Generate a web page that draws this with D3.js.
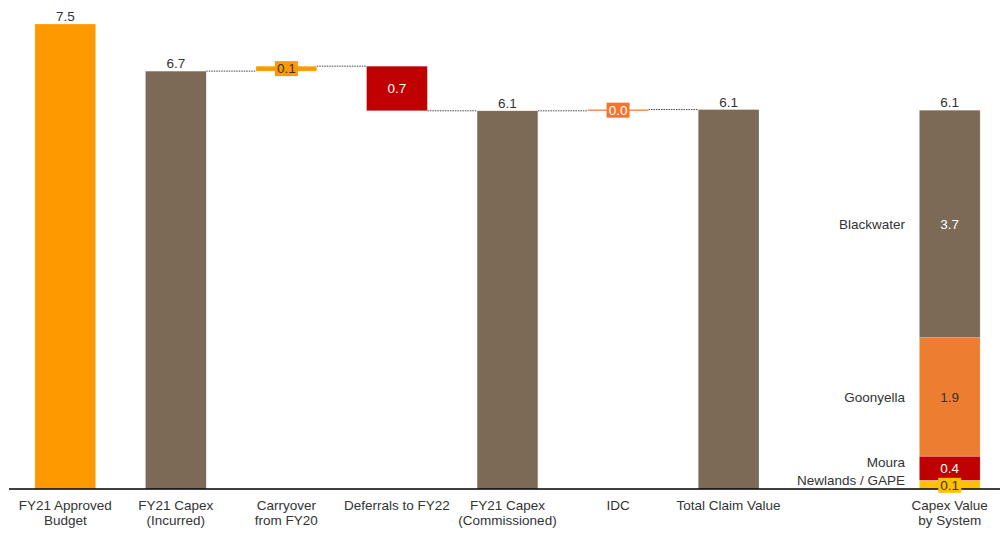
<!DOCTYPE html>
<html>
<head>
<meta charset="utf-8">
<script src="https://cdn.jsdelivr.net/npm/d3@7"></script>
<style>
  html, body { margin: 0; padding: 0; background: #fff; }
  svg { display: block; font-family: "Liberation Sans", Arial, sans-serif; }
</style>
</head>
<body>
<svg id="chart" width="1000" height="534"></svg>
<script>
// Category axis labels (line breaks split the two-line labels)
const categories = [
  "FY21 Approved\nBudget",
  "FY21 Capex\n(Incurred)",
  "Carryover\nfrom FY20",
  "Deferrals to FY22",
  "FY21 Capex\n(Commissioned)",
  "IDC",
  "Total Claim Value",
  "",
  "Capex Value\nby System"
];

// Waterfall steps ($bn): totals are absolute, deltas move from the running level
const stepValues = [7.5, 6.74, 0.08, -0.72, 6.10, 0.02, 6.12];
const stepKinds  = ["total", "total", "delta", "delta", "total", "delta", "total"];
const stepColors = ["#FF9900", "#7D6A56", "#FF9900", "#C00000", "#7D6A56", "#F8732C", "#7D6A56"];

// Capex split by system, top to bottom of the stacked bar
const systems      = ["Blackwater", "Goonyella", "Moura", "Newlands / GAPE"];
const systemValues = [3.67, 1.91, 0.39, 0.14];
const systemColors = ["#7D6A56", "#ED7D31", "#C00000", "#FFC000"];
const systemText   = ["#ffffff", "#333333", "#ffffff", "#333333"];

const fmt = d3.format(".1f");
const svg = d3.select("#chart");
const baseY = 489;
const FS = 13.5;

const x = d3.scaleBand()
  .domain(d3.range(categories.length))
  .range([10, 1005])
  .paddingInner(0.45)
  .paddingOuter(0.225);

const y = d3.scaleLinear().domain([0, 7.5]).range([baseY, 24]);

// Build waterfall segments
let level = 0;
const steps = stepValues.map((v, i) => {
  let lo, hi, end;
  if (stepKinds[i] === "total") { lo = 0; hi = v; end = v; }
  else { const s = level; end = level + v; lo = Math.min(s, end); hi = Math.max(s, end); }
  level = end;
  return { i, v, lo, hi, end, kind: stepKinds[i], color: stepColors[i] };
});

// Dotted connectors, from the incurred capex onwards
const conn = svg.append("g");
for (let k = 2; k < steps.length; k++) {
  const prev = steps[k - 1], cur = steps[k];
  const yy = y(prev.end);
  conn.append("line")
    .attr("x1", x(prev.i) + x.bandwidth())
    .attr("x2", x(cur.i))
    .attr("y1", yy).attr("y2", yy)
    .attr("stroke", "#444")
    .attr("stroke-width", 1)
    .attr("stroke-dasharray", "1.5,1");
}

// Waterfall bars
const bars = svg.append("g");
steps.forEach(s => {
  const h = Math.max(1.5, y(s.lo) - y(s.hi));
  bars.append("rect")
    .attr("x", x(s.i))
    .attr("y", (y(s.lo) + y(s.hi)) / 2 - h / 2)
    .attr("width", x.bandwidth())
    .attr("height", h)
    .attr("fill", s.color)
    .attr("stroke", "#ffffff")
    .attr("stroke-opacity", 0.5)
    .attr("stroke-width", 0.5);
});

// Stacked bar by system (bottom segment is the last system)
const stackIdx = categories.length - 1;
const sx = x(stackIdx), sw = x.bandwidth();
let acc = 0;
const segs = systems.map((name, k) => ({ name, k })).reverse().map(d => {
  const v = systemValues[d.k];
  const seg = { ...d, v, lo: acc, hi: acc + v };
  acc += v;
  return seg;
});
const stackG = svg.append("g");
segs.forEach(s => {
  stackG.append("rect")
    .attr("x", sx).attr("y", y(s.hi))
    .attr("width", sw).attr("height", y(s.lo) - y(s.hi))
    .attr("fill", systemColors[s.k])
    .attr("stroke", "#ffffff")
    .attr("stroke-opacity", 0.5)
    .attr("stroke-width", 0.5);
});

// Category axis line
svg.append("line")
  .attr("x1", 9).attr("x2", 1000)
  .attr("y1", baseY).attr("y2", baseY)
  .attr("stroke", "#000").attr("stroke-width", 1.5);

// Waterfall labels
const labels = svg.append("g").attr("font-size", FS);
steps.forEach(s => {
  const cx = x(s.i) + x.bandwidth() / 2;
  const txt = fmt(Math.abs(s.v));
  if (s.kind === "total") {
    labels.append("text")
      .attr("x", cx).attr("y", y(s.hi) - 3)
      .attr("text-anchor", "middle")
      .attr("fill", "#333")
      .text(txt);
  } else if (y(s.lo) - y(s.hi) > 20) {
    labels.append("text")
      .attr("x", cx).attr("y", (y(s.lo) + y(s.hi)) / 2)
      .attr("dy", "0.35em")
      .attr("text-anchor", "middle")
      .attr("fill", "#fff")
      .text(txt);
  } else {
    const cy = (y(s.lo) + y(s.hi)) / 2;
    labels.append("rect")
      .attr("x", cx - 11.5).attr("y", cy - 7.5)
      .attr("width", 23).attr("height", 15)
      .attr("fill", s.color);
    labels.append("text")
      .attr("x", cx).attr("y", cy)
      .attr("dy", "0.35em")
      .attr("text-anchor", "middle")
      .attr("fill", s.color === "#FF9900" ? "#333" : "#fff")
      .text(txt);
  }
});

const stackTotal = d3.sum(systemValues);
labels.append("text")
  .attr("x", sx + sw / 2).attr("y", y(stackTotal) - 3)
  .attr("text-anchor", "middle").attr("fill", "#333")
  .text(fmt(stackTotal));

// Segment values and system names
const nameOffsets = [0, 0, -6, 0];
segs.forEach(s => {
  let cy = (y(s.lo) + y(s.hi)) / 2;
  const cx = sx + sw / 2;
  if (s.k === 3) {
    cy = y(s.hi) + 5;
    labels.append("rect")
      .attr("x", cx - 11.5).attr("y", cy - 7.5)
      .attr("width", 23).attr("height", 15)
      .attr("fill", systemColors[s.k]);
  }
  labels.append("text")
    .attr("x", cx).attr("y", cy).attr("dy", "0.35em")
    .attr("text-anchor", "middle").attr("fill", systemText[s.k])
    .text(fmt(s.v));
  const ny = s.k === 3 ? y(s.hi) : cy + nameOffsets[s.k];
  labels.append("text")
    .attr("x", 905).attr("y", ny).attr("dy", "0.35em")
    .attr("text-anchor", "end").attr("fill", "#333")
    .text(s.name);
});

// Category labels
const axisG = svg.append("g").attr("font-size", FS).attr("fill", "#333");
categories.forEach((c, i) => {
  if (!c) return;
  const t = axisG.append("text")
    .attr("x", x(i) + x.bandwidth() / 2)
    .attr("y", 510)
    .attr("text-anchor", "middle");
  c.split("\n").forEach((line, j) => {
    t.append("tspan")
      .attr("x", x(i) + x.bandwidth() / 2)
      .attr("dy", j === 0 ? 0 : 15)
      .text(line);
  });
});
</script>
</body>
</html>
